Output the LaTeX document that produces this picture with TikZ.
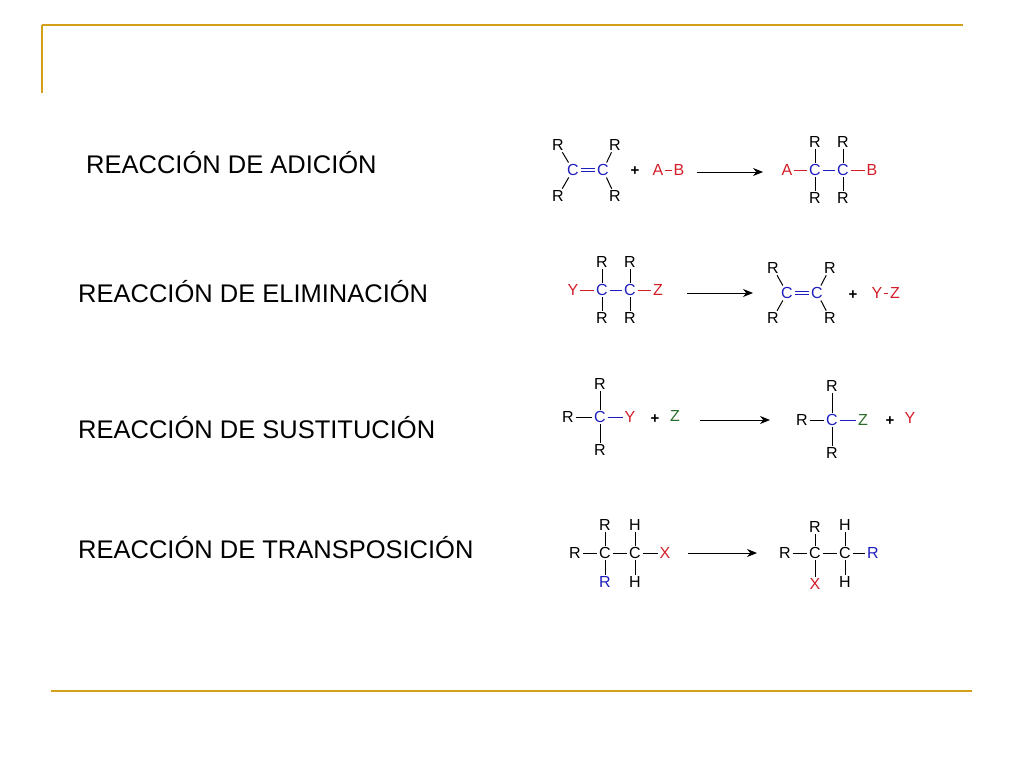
\documentclass[tikz,border=0pt]{standalone}
\usepackage{fontspec}
\setmainfont{Liberation Sans}
\usetikzlibrary{arrows.meta}
\definecolor{slidegold}{RGB}{212,160,23}
\definecolor{atomred}{RGB}{210,30,40}
\definecolor{atomblue}{RGB}{30,30,190}
\definecolor{atomgreen}{RGB}{40,110,40}

\begin{document}
\begin{tikzpicture}[x=1pt,y=-1pt,
  atom/.style={inner sep=1.6pt, font=\fontsize{16}{16}\selectfont},
  plus/.style={inner sep=0pt, font=\fontsize{15}{15}\selectfont\bfseries},
  title/.style={anchor=base west, inner sep=0pt, font=\fontsize{25.5}{30}\selectfont},
  bond/.style={line width=1pt},
  dbond/.style={line width=0.9pt, double, double distance=2.2pt},
  reaxn/.style={line width=1pt, -{Stealth[length=10pt,width=8pt]}},
  rule/.style={slidegold, line width=2.5pt}]
\useasboundingbox (0,0) rectangle (1024,768);
% frame of the slide
\draw[rule] (42,25) -- (963,25);
\draw[slidegold, line width=1.5pt] (42,25) -- (42,93);
\draw[rule] (51,691) -- (972,691);
% titles
\node[title] (t-ad) at (86,173) {REACCIÓN DE ADICIÓN};
\node[title] (t-el) at (78,302) {REACCIÓN DE ELIMINACIÓN};
\node[title] (t-su) at (78,438) {REACCIÓN DE SUSTITUCIÓN};
\node[title] (t-tr) at (78,558) {REACCIÓN DE TRANSPOSICIÓN};

% adicion
\node[atom] (ad-r1) at (558,145) {R};
\node[atom] (ad-r2) at (615,145) {R};
\node[atom, atomblue] (ad-c1) at (573,170) {C};
\node[atom, atomblue] (ad-c2) at (603,170) {C};
\node[atom] (ad-r3) at (558,196) {R};
\node[atom] (ad-r4) at (615,196) {R};
\draw[bond] (ad-r1) -- (ad-c1);
\draw[bond] (ad-r3) -- (ad-c1);
\draw[bond] (ad-r2) -- (ad-c2);
\draw[bond] (ad-r4) -- (ad-c2);
\draw[dbond, atomblue] (ad-c1) -- (ad-c2);
\node[plus] (ad-p1) at (635,171) {+};
\node[atom, atomred] (ad-a) at (658,170) {A};
\node[atom, atomred] (ad-b) at (679,170) {B};
\draw[bond, atomred] (ad-a) -- (ad-b);
\coordinate (ad-s) at (697,172);
\coordinate (ad-e) at (763,172);
\draw[reaxn] (ad-s) -- (ad-e);
\node[atom, atomred] (ad-pa) at (787,170) {A};
\node[atom, atomblue] (ad-pc1) at (815,170) {C};
\node[atom, atomblue] (ad-pc2) at (843,170) {C};
\node[atom, atomred] (ad-pb) at (872,170) {B};
\node[atom] (ad-pr1) at (815,142) {R};
\node[atom] (ad-pr2) at (843,142) {R};
\node[atom] (ad-pr3) at (815,198) {R};
\node[atom] (ad-pr4) at (843,198) {R};
\draw[bond, atomred] (ad-pa) -- (ad-pc1);
\draw[bond, atomblue] (ad-pc1) -- (ad-pc2);
\draw[bond, atomred] (ad-pc2) -- (ad-pb);
\draw[bond] (ad-pr1) -- (ad-pc1) -- (ad-pr3);
\draw[bond] (ad-pr2) -- (ad-pc2) -- (ad-pr4);

% eliminacion
\node[atom, atomred] (el-y) at (573,290) {Y};
\node[atom, atomblue] (el-c1) at (602,290) {C};
\node[atom, atomblue] (el-c2) at (630,290) {C};
\node[atom, atomred] (el-z) at (658,290) {Z};
\node[atom] (el-r1) at (602,262) {R};
\node[atom] (el-r2) at (630,262) {R};
\node[atom] (el-r3) at (602,318) {R};
\node[atom] (el-r4) at (630,318) {R};
\draw[bond, atomred] (el-y) -- (el-c1);
\draw[bond, atomblue] (el-c1) -- (el-c2);
\draw[bond, atomred] (el-c2) -- (el-z);
\draw[bond] (el-r1) -- (el-c1) -- (el-r3);
\draw[bond] (el-r2) -- (el-c2) -- (el-r4);
\coordinate (el-s) at (687,293);
\coordinate (el-e) at (753,293);
\draw[reaxn] (el-s) -- (el-e);
\node[atom] (el-pr1) at (773,268) {R};
\node[atom] (el-pr2) at (830,268) {R};
\node[atom, atomblue] (el-pc1) at (787,293) {C};
\node[atom, atomblue] (el-pc2) at (817,293) {C};
\node[atom] (el-pr3) at (773,318) {R};
\node[atom] (el-pr4) at (830,318) {R};
\draw[bond] (el-pr1) -- (el-pc1);
\draw[bond] (el-pr3) -- (el-pc1);
\draw[bond] (el-pr2) -- (el-pc2);
\draw[bond] (el-pr4) -- (el-pc2);
\draw[dbond, atomblue] (el-pc1) -- (el-pc2);
\node[plus] (el-p1) at (853,295) {+};
\node[atom, atomred] (el-py) at (877,293) {Y};
\node[atom, atomred] (el-pz) at (895,293) {Z};
\draw[bond, atomred] (el-py) -- (el-pz);

% sustitucion
\node[atom] (su-r1) at (568,417) {R};
\node[atom, atomblue] (su-c) at (600,417) {C};
\node[atom, atomred] (su-y) at (630,417) {Y};
\node[atom] (su-r2) at (600,384) {R};
\node[atom] (su-r3) at (600,450) {R};
\draw[bond] (su-r1) -- (su-c);
\draw[bond, atomblue] (su-c) -- (su-y);
\draw[bond] (su-r2) -- (su-c) -- (su-r3);
\node[plus] (su-p1) at (655,419) {+};
\node[atom, atomgreen] (su-z) at (675,416) {Z};
\coordinate (su-s) at (700,420);
\coordinate (su-e) at (770,420);
\draw[reaxn] (su-s) -- (su-e);
\node[atom] (su-pr1) at (802,420) {R};
\node[atom, atomblue] (su-pc) at (832,420) {C};
\node[atom, atomgreen] (su-pz) at (863,420) {Z};
\node[atom] (su-pr2) at (832,386) {R};
\node[atom] (su-pr3) at (832,453) {R};
\draw[bond] (su-pr1) -- (su-pc);
\draw[bond, atomblue] (su-pc) -- (su-pz);
\draw[bond] (su-pr2) -- (su-pc) -- (su-pr3);
\node[plus] (su-p2) at (890,421) {+};
\node[atom, atomred] (su-py) at (910,418) {Y};

% transposicion
\node[atom] (tr-r1) at (575,553) {R};
\node[atom] (tr-c1) at (605,553) {C};
\node[atom] (tr-c2) at (635,553) {C};
\node[atom, atomred] (tr-x) at (665,553) {X};
\node[atom] (tr-r2) at (605,525) {R};
\node[atom, atomblue] (tr-r3) at (605,582) {R};
\node[atom] (tr-h1) at (635,525) {H};
\node[atom] (tr-h2) at (635,582) {H};
\draw[bond] (tr-r1) -- (tr-c1) -- (tr-c2) -- (tr-x);
\draw[bond] (tr-r2) -- (tr-c1) -- (tr-r3);
\draw[bond] (tr-h1) -- (tr-c2) -- (tr-h2);
\coordinate (tr-s) at (688,553);
\coordinate (tr-e) at (757,553);
\draw[reaxn] (tr-s) -- (tr-e);
\node[atom] (tr-pr1) at (785,553) {R};
\node[atom] (tr-pc1) at (815,553) {C};
\node[atom] (tr-pc2) at (845,553) {C};
\node[atom, atomblue] (tr-pr) at (873,553) {R};
\node[atom] (tr-pr2) at (815,527) {R};
\node[atom, atomred] (tr-px) at (815,584) {X};
\node[atom] (tr-ph1) at (845,525) {H};
\node[atom] (tr-ph2) at (845,582) {H};
\draw[bond] (tr-pr1) -- (tr-pc1) -- (tr-pc2) -- (tr-pr);
\draw[bond] (tr-pr2) -- (tr-pc1) -- (tr-px);
\draw[bond] (tr-ph1) -- (tr-pc2) -- (tr-ph2);
\end{tikzpicture}
\end{document}
